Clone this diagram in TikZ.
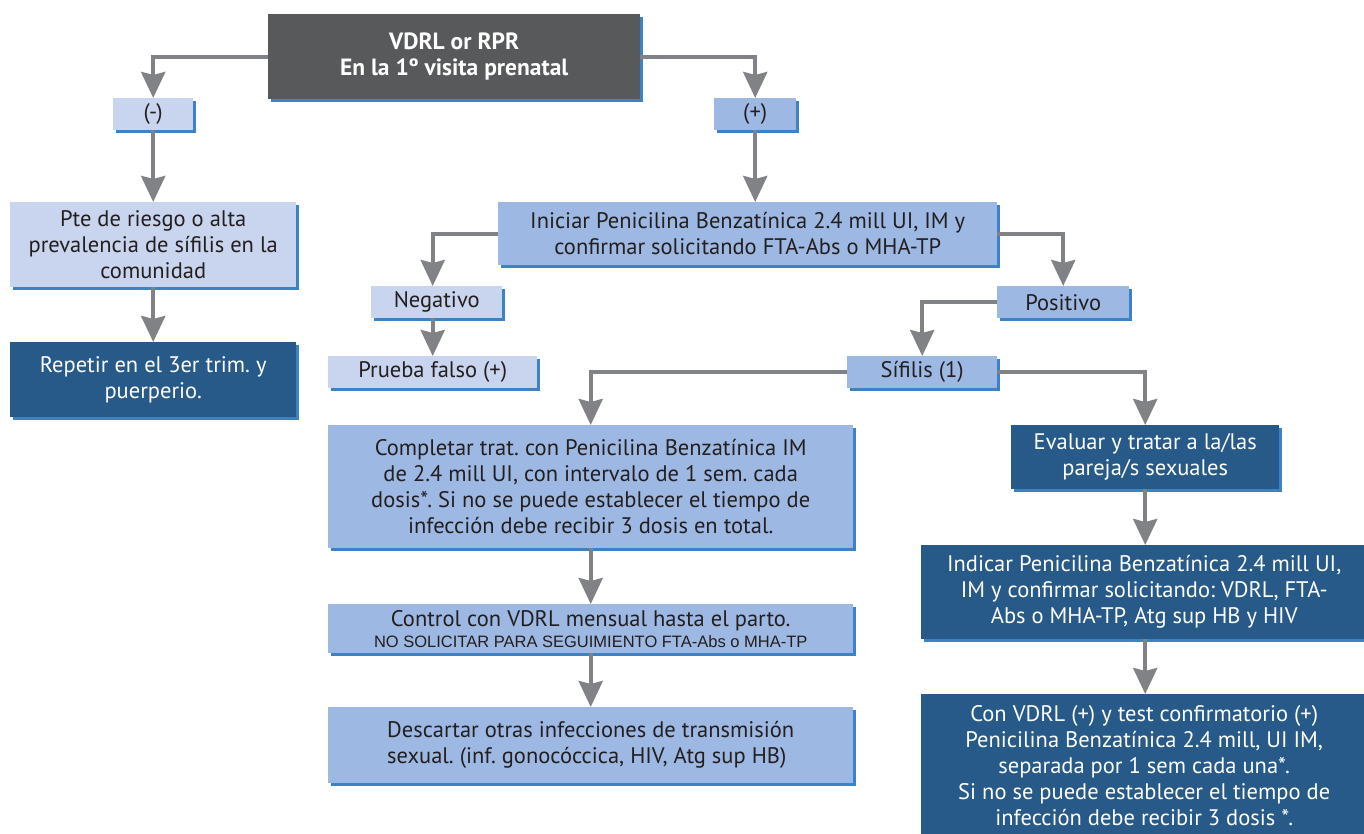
\documentclass[tikz,border=0pt]{standalone}
\usepackage{fontspec}
\setmainfont{PT Sans}
\newfontfamily\arialf{Liberation Sans}
\usetikzlibrary{arrows.meta,shadows}
\definecolor{dgray}{HTML}{58595B}
\definecolor{lblue}{HTML}{C9D5EE}
\definecolor{mblue}{HTML}{9DB8E2}
\definecolor{dblue}{HTML}{275A89}
\definecolor{shb}{HTML}{3D82C6}
\definecolor{agray}{HTML}{808285}
\definecolor{txt}{HTML}{231F20}
\frenchspacing
\tikzset{
  bx/.style={inner sep=0pt, align=center, anchor=north west, text=txt,
    font=\fontsize{22.5}{26}\selectfont,
    general shadow={fill=shb, shadow xshift=3pt, shadow yshift=-3pt}},
  lbx/.style={bx, fill=lblue},
  mbx/.style={bx, fill=mblue},
  dbx/.style={bx, fill=dblue, text=white},
  conn/.style={draw=agray, line width=4pt, -{Stealth[length=26pt,width=24pt,inset=3pt]}},
}
\begin{document}
\begin{tikzpicture}[x=1pt,y=-1pt]
\useasboundingbox (0,0) rectangle (1364,834);
\node[bx, fill=dgray, text=white, font=\fontsize{23.5}{26}\selectfont\bfseries, minimum width=372pt, minimum height=85pt] (top) at (268,14) {VDRL or RPR\\En la 1º visita prenatal};
\node[lbx, minimum width=80pt, minimum height=32pt] (minus) at (113,98) {(-)};
\node[mbx, minimum width=82pt, minimum height=32pt] (plus) at (714,98) {(+)};
\node[lbx, minimum width=286pt, minimum height=85pt] (pte) at (10,202) {Pte de riesgo o alta\\prevalencia de sífilis en la\\comunidad};
\node[dbx, minimum width=286pt, minimum height=75pt] (rep) at (10,342) {Repetir en el 3er trim. y\\puerperio.};
\node[mbx, minimum width=499pt, minimum height=63pt] (ini) at (498,202) {Iniciar Penicilina Benzatínica 2.4 mill UI, IM y\\confirmar solicitando FTA-Abs o MHA-TP};
\node[lbx, minimum width=131pt, minimum height=32pt] (neg) at (371,286) {Negativo};
\node[lbx, minimum width=209pt, minimum height=32pt] (fal) at (328,356) {Prueba falso (+)};
\node[mbx, minimum width=132pt, minimum height=32pt] (pos) at (997,286) {Positivo};
\node[mbx, minimum width=150pt, minimum height=32pt] (sif) at (847,356) {Sífilis (1)};
\node[mbx, minimum width=525pt, minimum height=123pt] (comp) at (328,425) {Completar trat. con Penicilina Benzatínica IM\\de 2.4 mill UI, con intervalo de 1 sem. cada\\dosis*. Si no se puede establecer el tiempo de\\infección debe recibir 3 dosis en total.};
\node[mbx, minimum width=525pt, minimum height=49pt] (ctrl) at (328,604) {Control con VDRL mensual hasta el parto.\\[-5pt]{\arialf\fontsize{16.5}{18}\selectfont NO SOLICITAR PARA SEGUIMIENTO FTA-Abs o MHA-TP}};
\node[mbx, minimum width=525pt, minimum height=76pt, align=left] (desc) at (328,707) {Descartar otras infecciones de transmisión\\sexual. (inf. gonocóccica, HIV, Atg sup HB)};
\node[dbx, minimum width=268pt, minimum height=64pt] (eval) at (1011,425) {Evaluar y tratar a la/las\\pareja/s sexuales};
\node[dbx, minimum width=446pt, minimum height=94pt] (ind) at (921,545) {Indicar Penicilina Benzatínica 2.4 mill UI,\\IM y confirmar solicitando: VDRL, FTA-\\Abs o MHA-TP, Atg sup HB y HIV};
\node[dbx, minimum width=446pt, minimum height=143pt] (con) at (921,694) {Con VDRL (+) y test confirmatorio (+)\\Penicilina Benzatínica 2.4 mill, UI IM,\\separada por 1 sem cada una*.\\Si no se puede establecer el tiempo de\\infección debe recibir 3 dosis *.};
\draw[conn] (top.west) -| (minus.north);
\draw[conn] (top.east) -| (plus.north);
\draw[conn] (minus.south) -- (pte.north);
\draw[conn] (pte.south) -- (rep.north);
\draw[conn] (plus.south) -- (ini.north -| plus.south);
\draw[conn] (ini.west) -| (neg.north -| fal.north);
\draw[conn] (ini.east) -| (pos.north);
\draw[conn] (neg.south -| fal.north) -- (fal.north);
\draw[conn] (pos.west) -| (sif.north);
\draw[conn] (sif.west) -| (comp.north);
\draw[conn] (sif.east) -| (eval.north);
\draw[conn] (comp.south) -- (ctrl.north);
\draw[conn] (ctrl.south) -- (desc.north);
\draw[conn] (eval.south) -- (ind.north -| eval.south);
\draw[conn] (ind.south -| eval.south) -- (con.north -| eval.south);
\end{tikzpicture}
\end{document}
